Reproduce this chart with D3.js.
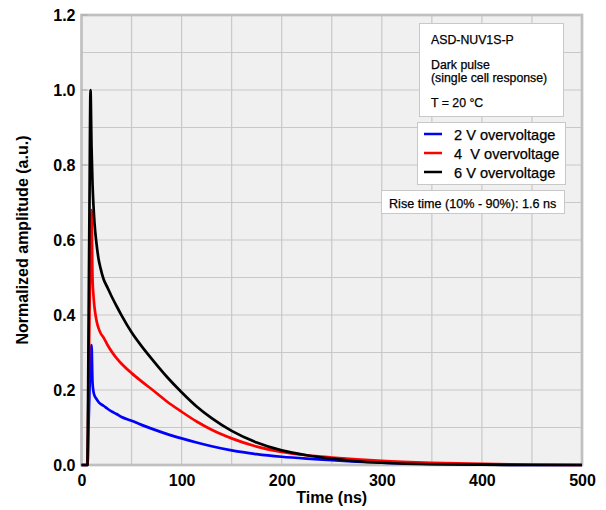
<!DOCTYPE html>
<html>
<head>
<meta charset="utf-8">
<script src="https://cdn.jsdelivr.net/npm/d3@7"></script>
<style>
  body { margin: 0; background: #fff; }
  svg { display: block; font-family: "Liberation Sans", Arial, sans-serif; }
  .boxtext { fill: #000; stroke: #000; stroke-width: 0.25px; }
</style>
</head>
<body>
<svg id="chart" width="606" height="510"></svg>
<script>
// time grid (ns) shared by the three traces
const time = [0, 5, 6, 7, 8, 9, 10, 11, 12, 13, 15, 17, 19, 22, 26, 30, 35, 40, 50, 60, 72, 85, 100, 115, 130, 150, 175, 200, 225, 250, 275, 300, 350, 400, 450, 500];

const amp2V = [0, 0, 0, 0.1, 0.2, 0.28, 0.32, 0.22, 0.195, 0.185, 0.176, 0.168, 0.163, 0.158, 0.15, 0.143, 0.136, 0.128, 0.118, 0.107, 0.095, 0.083, 0.071, 0.06, 0.05, 0.039, 0.029, 0.022, 0.017, 0.013, 0.009, 0.006, 0.003, 0.001, 0, 0];
const amp4V = [0, 0, 0, 0.2, 0.4, 0.58, 0.68, 0.5, 0.45, 0.42, 0.385, 0.365, 0.352, 0.34, 0.32, 0.303, 0.285, 0.27, 0.245, 0.223, 0.198, 0.17, 0.142, 0.116, 0.094, 0.071, 0.049, 0.035, 0.026, 0.02, 0.015, 0.011, 0.006, 0.003, 0.001, 0];
const amp6V = [0, 0, 0, 0.35, 0.7, 1.0, 0.85, 0.75, 0.69, 0.645, 0.59, 0.55, 0.525, 0.496, 0.473, 0.45, 0.424, 0.399, 0.354, 0.317, 0.277, 0.236, 0.194, 0.156, 0.125, 0.091, 0.06, 0.039, 0.026, 0.017, 0.01, 0.006, 0.002, 0.001, 0, 0];

const seriesNames = ["2 V overvoltage", "4  V overvoltage", "6 V overvoltage"];
const seriesColors = ["#0000ff", "#ff0000", "#000000"];

const xTicks = [0, 100, 200, 300, 400, 500];
const yTicks = [0, 0.2, 0.4, 0.6, 0.8, 1.0, 1.2];

const infoLines = ["ASD-NUV1S-P", "Dark pulse", "(single cell response)", "T = 20 °C"];
const riseText = "Rise time (10% - 90%): 1.6 ns";

const svg = d3.select("#chart");
const plotL = 81.5, plotR = 582, plotT = 15, plotB = 465;

const x = d3.scaleLinear().domain([0, 500]).range([plotL, plotR]);
const y = d3.scaleLinear().domain([0, 1.2]).range([plotB, plotT]);

// plot background
svg.append("rect")
  .attr("x", plotL).attr("y", plotT)
  .attr("width", plotR - plotL).attr("height", plotB - plotT)
  .attr("fill", "#f0f0f0");

// grid
svg.append("g")
  .selectAll("line")
  .data(d3.range(50, 500, 50))
  .join("line")
  .attr("x1", d => x(d)).attr("x2", d => x(d))
  .attr("y1", plotT).attr("y2", plotB)
  .attr("stroke", "#c8c8c8").attr("stroke-width", 1.2);

svg.append("g")
  .selectAll("line")
  .data(d3.range(1, 12).map(d => d / 10))
  .join("line")
  .attr("x1", plotL).attr("x2", plotR)
  .attr("y1", d => y(d)).attr("y2", d => y(d))
  .attr("stroke", "#c8c8c8").attr("stroke-width", 1.2);

// frame
svg.append("rect")
  .attr("x", plotL).attr("y", plotT)
  .attr("width", plotR - plotL).attr("height", plotB - plotT)
  .attr("fill", "none")
  .attr("stroke", "#c0c0c0").attr("stroke-width", 2.7);

// axes
const xAxis = d3.axisBottom(x).tickValues(xTicks).tickSize(0).tickPadding(10).tickFormat(d3.format("d"));
const yAxis = d3.axisLeft(y).tickValues(yTicks).tickSize(0).tickPadding(6).tickFormat(d3.format(".1f"));

const gx = svg.append("g").attr("transform", `translate(0,${plotB})`).call(xAxis);
const gy = svg.append("g").attr("transform", `translate(${plotL},0)`).call(yAxis);
[gx, gy].forEach(g => {
  g.select(".domain").remove();
  g.selectAll("text")
    .attr("fill", "#000")
    .style("font-family", "'Liberation Sans', Arial, sans-serif")
    .style("font-size", "16px")
    .style("font-weight", "bold");
});

// small inside ticks on y axis
svg.append("g")
  .selectAll("line")
  .data(yTicks)
  .join("line")
  .attr("x1", plotL).attr("x2", plotL + 6)
  .attr("y1", d => y(d)).attr("y2", d => y(d))
  .attr("stroke", "#a8a8a8");

// axis titles
svg.append("text")
  .attr("x", (plotL + plotR) / 2).attr("y", 503)
  .attr("text-anchor", "middle")
  .style("font-size", "16px").style("font-weight", "bold")
  .text("Time (ns)");

svg.append("text")
  .attr("transform", `translate(28,${(plotT + plotB) / 2}) rotate(-90)`)
  .attr("text-anchor", "middle")
  .style("font-size", "16px").style("font-weight", "bold")
  .text("Normalized amplitude (a.u.)");

// traces
const series = [amp2V, amp4V, amp6V];
const line = d3.line()
  .x((d, i) => x(time[i]))
  .y(d => y(d))
  .curve(d3.curveMonotoneX);

svg.append("g")
  .selectAll("path")
  .data(series)
  .join("path")
  .attr("d", d => line(d))
  .attr("fill", "none")
  .attr("stroke", (d, i) => seriesColors[i])
  .attr("stroke-width", 2.7)
  .attr("stroke-linejoin", "round");

// info box
svg.append("rect")
  .attr("x", 419.5).attr("y", 23.5).attr("width", 144).attr("height", 93)
  .attr("fill", "#fff").attr("stroke", "#c8c8c8");

const infoY = [44, 69, 81.5, 107];
svg.append("g")
  .selectAll("text")
  .data(infoLines)
  .join("text")
  .attr("class", "boxtext")
  .attr("x", 431).attr("y", (d, i) => infoY[i])
  .style("font-size", "12.3px")
  .text(d => d);

// legend box
svg.append("rect")
  .attr("x", 417.5).attr("y", 122.5).attr("width", 148).attr("height", 62)
  .attr("fill", "#fff").attr("stroke", "#c8c8c8");

const legendRow = d3.scaleLinear().domain([0, 2]).range([134, 172]);
const lg = svg.append("g")
  .selectAll("g")
  .data(seriesNames)
  .join("g")
  .attr("transform", (d, i) => `translate(0,${legendRow(i)})`);

lg.append("line")
  .attr("x1", 424).attr("x2", 442)
  .attr("stroke", (d, i) => seriesColors[i]).attr("stroke-width", 2.5);

lg.append("text")
  .attr("class", "boxtext")
  .attr("x", 454).attr("y", 5.5)
  .style("font-size", "14.6px")
  .style("white-space", "pre")
  .attr("xml:space", "preserve")
  .text(d => d);

// rise time box
svg.append("rect")
  .attr("x", 381.5).attr("y", 190.5).attr("width", 183).attr("height", 23)
  .attr("fill", "#fff").attr("stroke", "#c8c8c8");

svg.append("text")
  .attr("class", "boxtext")
  .attr("x", 389).attr("y", 207.5)
  .style("font-size", "12.6px")
  .text(riseText);
</script>
</body>
</html>
